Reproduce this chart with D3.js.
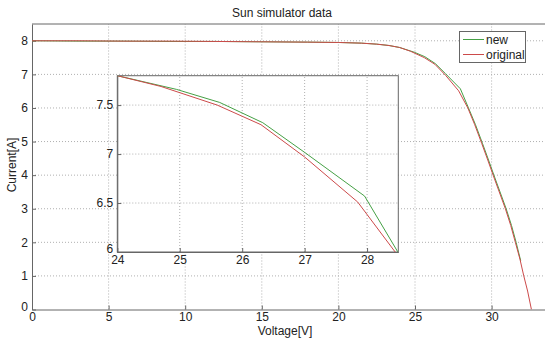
<!DOCTYPE html>
<html>
<head>
<meta charset="utf-8">
<script src="https://cdn.jsdelivr.net/npm/d3@7"></script>
<style>
  body { margin: 0; background: #fff; }
  text { font-family: Arial, "Liberation Sans", sans-serif; fill: #222; }
</style>
</head>
<body>
<script>
// data
let voltOriginal = [0, 3, 6, 9, 12, 15, 18, 20, 21.5, 22.5, 23.3, 24, 24.7, 25.6, 26.3, 27, 27.85, 28.45, 28.9, 29.35, 29.75, 30.1, 30.5, 30.9, 31.25, 31.55, 31.85, 32.1, 32.35, 32.6];
let currOriginal = [8.00, 8.00, 7.99, 7.99, 7.98, 7.97, 7.96, 7.95, 7.93, 7.90, 7.86, 7.80, 7.69, 7.50, 7.30, 6.97, 6.51, 6.00, 5.50, 4.95, 4.45, 4.00, 3.50, 3.00, 2.50, 2.00, 1.50, 1.00, 0.55, 0.00];
let voltNew = [0, 3, 6, 9, 12, 15, 18, 20, 21.5, 22.5, 23.3, 24, 24.95, 25.64, 26.33, 27, 27.96, 28.49, 28.95, 29.4, 29.8, 30.15, 30.55, 30.95, 31.3, 31.6, 31.9];
let currNew = [8.00, 7.99, 7.99, 7.98, 7.98, 7.97, 7.96, 7.95, 7.93, 7.90, 7.86, 7.80, 7.66, 7.527, 7.32, 7.017, 6.571, 6.003, 5.50, 4.95, 4.45, 4.00, 3.50, 3.00, 2.50, 2.00, 1.45];

let xTicks = [0, 5, 10, 15, 20, 25, 30];
let yTicks = [0, 1, 2, 3, 4, 5, 6, 7, 8];
let insetXTicks = [24, 25, 26, 27, 28];
let insetYTicks = [6, 6.5, 7, 7.5];

let seriesNames = ["new", "original"];
let seriesColors = ["#45a045", "#cc4a4a"];

let svg = d3.select("body").append("svg")
  .attr("width", 545)
  .attr("height", 338);

let plotLeft = 32, plotTop = 24, plotBottom = 309.5;
let x = d3.scaleLinear().domain([0, 34]).range([plotLeft, plotLeft + 34 * 15.32]);
let y = d3.scaleLinear().domain([0, 8.5]).range([plotBottom, plotTop]);

function addPanel(g, xs, ys, xt, yt, fmtY) {
  // white background + grid
  g.append("rect")
    .attr("x", xs.range()[0]).attr("y", ys.range()[1])
    .attr("width", xs.range()[1] - xs.range()[0])
    .attr("height", ys.range()[0] - ys.range()[1])
    .style("fill", "#fff");
  g.selectAll(".vgrid").data(xt.slice(1)).enter().append("line")
    .attr("x1", d => xs(d)).attr("x2", d => xs(d))
    .attr("y1", ys.range()[0]).attr("y2", ys.range()[1])
    .style("stroke", "#b0b0b0").style("stroke-dasharray", "1,2");
  g.selectAll(".hgrid").data(yt.slice(1)).enter().append("line")
    .attr("x1", xs.range()[0]).attr("x2", xs.range()[1])
    .attr("y1", d => ys(d)).attr("y2", d => ys(d))
    .style("stroke", "#b0b0b0").style("stroke-dasharray", "1,2");

  let xAxis = g.append("g").attr("transform", "translate(0," + ys.range()[0] + ")")
    .call(d3.axisBottom(xs).tickValues(xt).tickSize(-4).tickPadding(3).tickSizeOuter(0).tickFormat(d3.format("d")));
  let yAxis = g.append("g").attr("transform", "translate(" + xs.range()[0] + ",0)")
    .call(d3.axisLeft(ys).tickValues(yt).tickSize(-4).tickPadding(4).tickSizeOuter(0).tickFormat(fmtY));
  [xAxis, yAxis].forEach(a => {
    a.select(".domain").style("stroke", "#666");
    a.selectAll(".tick line").style("stroke", "#666");
    a.selectAll("text").style("font-size", "12px").style("font-family", "Arial, 'Liberation Sans', sans-serif").style("fill", "#222");
  });
  // lowest y label sits a little above the corner, as in the original
  yAxis.selectAll(".tick text").filter(d => d === yt[0]).attr("dy", "0.05em");
}

function addLines(g, xs, ys, clipId) {
  let line = d3.line().x(d => xs(d[0])).y(d => ys(d[1]));
  let sets = [[voltNew, currNew], [voltOriginal, currOriginal]];
  sets.forEach((s, i) => {
    g.append("path")
      .datum(s[0].map((v, j) => [v, s[1][j]]))
      .attr("d", line)
      .attr("clip-path", "url(#" + clipId + ")")
      .style("fill", "none")
      .style("stroke", seriesColors[i])
      .style("stroke-width", 1);
  });
}

let defs = svg.append("defs");
defs.append("clipPath").attr("id", "mainClip").append("rect")
  .attr("x", plotLeft).attr("y", plotTop).attr("width", 600).attr("height", plotBottom - plotTop);

// main axes
let main = svg.append("g");
addPanel(main, x, y, xTicks, yTicks, d3.format("d"));
main.append("line").attr("x1", plotLeft).attr("x2", 560).attr("y1", plotTop).attr("y2", plotTop).style("stroke", "#666");
addLines(main, x, y, "mainClip");

// inset
let xi = d3.scaleLinear().domain([24, 28.5]).range([117.3, 398.3]);
let yi = d3.scaleLinear().domain([6, 7.8]).range([252, 75.7]);
defs.append("clipPath").attr("id", "insetClip").append("rect")
  .attr("x", 117.3).attr("y", 75.7).attr("width", 281).attr("height", 176.3);
let inset = svg.append("g");
addPanel(inset, xi, yi, insetXTicks, insetYTicks, d3.format("~g"));
inset.append("rect").attr("x", 117.3).attr("y", 75.7).attr("width", 281).attr("height", 176.3)
  .style("fill", "none").style("stroke", "#666");
addLines(inset, xi, yi, "insetClip");

// legend
let legend = svg.append("g");
legend.append("rect").attr("x", 459.5).attr("y", 31.5).attr("width", 66).attr("height", 31)
  .style("fill", "#fff").style("stroke", "#666");
seriesNames.forEach((n, i) => {
  let ly = 39.5 + i * 15;
  legend.append("line").attr("x1", 463).attr("x2", 484).attr("y1", ly).attr("y2", ly)
    .style("stroke", seriesColors[i]);
  legend.append("text").attr("x", 486).attr("y", ly + 4.5).text(n).style("font-size", "12px");
});

// titles
svg.append("text").attr("x", 282).attr("y", 17).attr("text-anchor", "middle")
  .style("font-size", "12px").text("Sun simulator data");
svg.append("text").attr("x", 285).attr("y", 335).attr("text-anchor", "middle")
  .style("font-size", "12px").text("Voltage[V]");
svg.append("text").attr("transform", "translate(16,165) rotate(-90)").attr("text-anchor", "middle")
  .style("font-size", "12px").text("Current[A]");
</script>
</body>
</html>
